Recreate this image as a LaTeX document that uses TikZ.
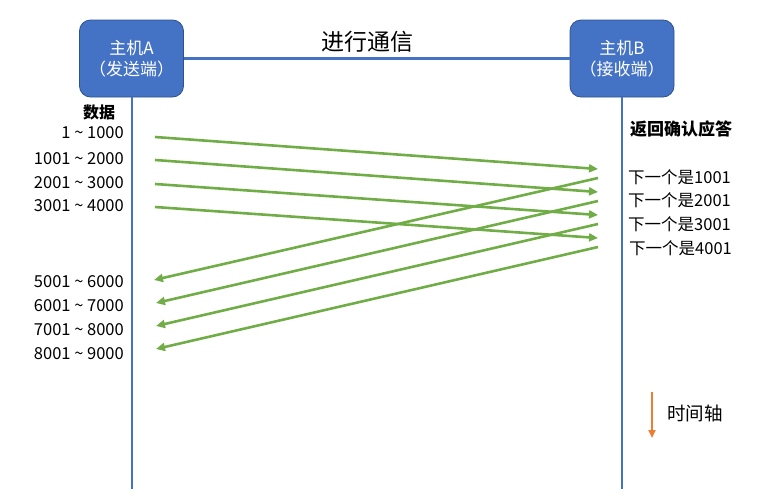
\documentclass[tikz,border=0pt]{standalone}
\usepackage{fontspec}
\setmainfont{Noto Sans CJK SC}
\usetikzlibrary{arrows.meta}
\definecolor{boxblue}{HTML}{4472C4}
\definecolor{boxedge}{HTML}{2F528F}
\definecolor{sendgreen}{HTML}{70AD47}
\definecolor{timeorange}{HTML}{ED7D31}
\tikzset{
  host/.style={rounded corners=11pt, fill=boxblue, draw=boxedge, line width=0.8pt,
    minimum width=104pt, minimum height=77pt, text=white, align=center,
    font=\fontsize{17}{21}\selectfont, inner sep=0pt},
  lifeline/.style={draw=boxblue, line width=2pt},
  lbl/.style={font=\fontsize{16.5}{18}\selectfont, inner sep=0pt},
  seg/.style={draw=sendgreen, line width=2.6pt, -{Triangle[length=9pt,width=8pt]}},
}
\begin{document}
\begin{tikzpicture}[x=1pt,y=-1pt]
\useasboundingbox (0,0) rectangle (781,501);
% hosts
\node[host] (A) at (131.5,58.5) {主机A\\（发送端）};
\node[host] (B) at (622,58.5) {主机B\\（接收端）};
\draw[draw=boxblue, line width=3pt] (A.east) -- (B.west);
\node[font=\fontsize{23}{26}\selectfont, inner sep=0pt] (comm) at (367,42) {进行通信};
% lifelines
\coordinate (Aend) at (131.5,489);
\coordinate (Bend) at (622,489);
\draw[lifeline] (A.south) -- (Aend);
\draw[lifeline] (B.south) -- (Bend);
% left labels
\node[lbl, font=\fontsize{16}{18}\selectfont\bfseries] (data) at (99,112) {数据};
\node[lbl, anchor=east] (d1) at (124,133) {1 \textasciitilde{} 1000};
\node[lbl, anchor=east] (d2) at (124,159) {1001 \textasciitilde{} 2000};
\node[lbl, anchor=east] (d3) at (124,183) {2001 \textasciitilde{} 3000};
\node[lbl, anchor=east] (d4) at (124,206) {3001 \textasciitilde{} 4000};
\node[lbl, anchor=east] (d5) at (124,282) {5001 \textasciitilde{} 6000};
\node[lbl, anchor=east] (d6) at (124,306) {6001 \textasciitilde{} 7000};
\node[lbl, anchor=east] (d7) at (124,330) {7001 \textasciitilde{} 8000};
\node[lbl, anchor=east] (d8) at (124,354) {8001 \textasciitilde{} 9000};
% right labels
\node[lbl, font=\fontsize{17}{18}\selectfont\bfseries, anchor=west] (ack) at (630,129) {返回确认应答};
\node[lbl, anchor=west] (a1) at (628,177) {下一个是1001};
\node[lbl, anchor=west] (a2) at (628,200) {下一个是2001};
\node[lbl, anchor=west] (a3) at (628,224) {下一个是3001};
\node[lbl, anchor=west] (a4) at (629,248) {下一个是4001};
% send arrow ends
\coordinate (s1) at (155,137); \coordinate (r1) at (598,169);
\coordinate (s2) at (155,160); \coordinate (r2) at (598,192);
\coordinate (s3) at (155,184); \coordinate (r3) at (598,215);
\coordinate (s4) at (155,207); \coordinate (r4) at (598,238);
\draw[seg] (s1) -- (r1);
\draw[seg] (s2) -- (r2);
\draw[seg] (s3) -- (r3);
\draw[seg] (s4) -- (r4);
% ack arrows
\coordinate (b1) at (598,178); \coordinate (c1) at (154,280);
\coordinate (b2) at (598,201); \coordinate (c2) at (156,303);
\coordinate (b3) at (598,224); \coordinate (c3) at (156,326);
\coordinate (b4) at (598,247); \coordinate (c4) at (156,349);
\draw[seg] (b1) -- (c1);
\draw[seg] (b2) -- (c2);
\draw[seg] (b3) -- (c3);
\draw[seg] (b4) -- (c4);
% time axis
\coordinate (t0) at (652,392);
\coordinate (t1) at (652,438);
\draw[draw=timeorange, line width=2pt, -{Triangle[length=8pt,width=7pt]}] (t0) -- (t1);
\node[lbl, font=\fontsize{18.5}{20}\selectfont, anchor=west] (time) at (667,413) {时间轴};
\end{tikzpicture}
\end{document}
